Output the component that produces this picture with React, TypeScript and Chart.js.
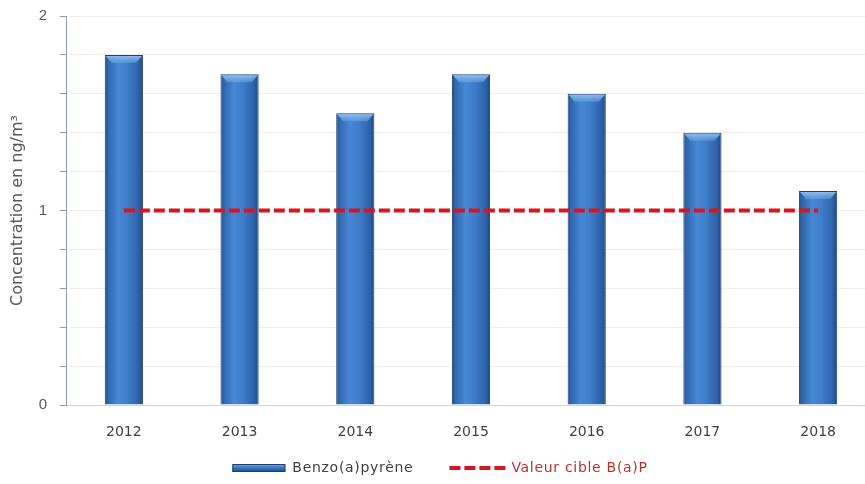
import React, { useEffect, useRef } from "react";
import { Chart, registerables } from "chart.js";

Chart.register(...registerables);

const categories = ["2012", "2013", "2014", "2015", "2016", "2017", "2018"];
const bapValues = [1.8, 1.7, 1.5, 1.7, 1.6, 1.4, 1.1];
const targetValues = [1, 1, 1, 1, 1, 1, 1];
const seriesLabels = ["Benzo(a)pyrène", "Valeur cible B(a)P"];
const yTitle = "Concentration en ng/m³";

const BAR_PCT = 0.33;

function barGradient(ctx: any) {
  const chart = ctx.chart;
  const xs = chart.scales && chart.scales.x;
  if (!xs || ctx.dataIndex === undefined) return "#3a76c0";
  const cx = xs.getPixelForValue(ctx.dataIndex);
  const w = (xs.width / categories.length) * BAR_PCT;
  if (!isFinite(cx) || !isFinite(w) || w <= 0) return "#3a76c0";
  const g = chart.ctx.createLinearGradient(cx - w / 2, 0, cx + w / 2, 0);
  g.addColorStop(0, "#1d4883");
  g.addColorStop(0.08, "#2e67ae");
  g.addColorStop(0.35, "#4888d5");
  g.addColorStop(0.6, "#3f7cc9");
  g.addColorStop(0.9, "#2b60a6");
  g.addColorStop(1, "#1b437d");
  return g;
}

const bevelPlugin = {
  id: "bevel",
  afterDatasetsDraw(chart: any) {
    const meta = chart.getDatasetMeta(0);
    const c = chart.ctx;
    c.save();
    meta.data.forEach((el: any) => {
      const w = el.width;
      if (!isFinite(el.x) || !isFinite(el.y) || !isFinite(w)) return;
      const l = el.x - w / 2 + 1;
      const r = el.x + w / 2 - 1;
      const t = el.y + 1;
      const g = c.createLinearGradient(0, t, 0, t + 7);
      g.addColorStop(0, "rgba(150,195,245,0.9)");
      g.addColorStop(1, "rgba(110,165,230,0.5)");
      c.fillStyle = g;
      c.beginPath();
      c.moveTo(l, t);
      c.lineTo(r, t);
      c.lineTo(r - 6, t + 7);
      c.lineTo(l + 6, t + 7);
      c.closePath();
      c.fill();
    });
    c.restore();
  },
};

const legendPlugin = {
  id: "customLegend",
  afterDraw(chart: any) {
    const c = chart.ctx;
    c.save();
    (c as any).letterSpacing = "0.7px";
    c.font = "14px 'DejaVu Sans'";
    c.textAlign = "left";
    c.textBaseline = "middle";
    const t1 = seriesLabels[0];
    const t2 = seriesLabels[1];
    const w1 = c.measureText(t1).width;
    const w2 = c.measureText(t2).width;
    const sw1 = 53, g1 = 7, gap = 36, sw2 = 59, g2 = 3;
    const total = sw1 + g1 + w1 + gap + sw2 + g2 + w2;
    let x = chart.width / 2 - total / 2;
    const y = 468;
    const gr = c.createLinearGradient(0, y - 4, 0, y + 4);
    gr.addColorStop(0, "#7fb0e8");
    gr.addColorStop(0.4, "#3f7ecb");
    gr.addColorStop(1, "#1d4883");
    c.fillStyle = gr;
    c.fillRect(x, y - 4, sw1, 8);
    c.strokeStyle = "#1f3f70";
    c.lineWidth = 1;
    c.strokeRect(x + 0.5, y - 3.5, sw1 - 1, 7);
    x += sw1 + g1;
    c.fillStyle = "#404040";
    c.fillText(t1, x, y);
    x += w1 + gap;
    c.strokeStyle = "#d9141c";
    c.lineWidth = 4;
    c.setLineDash([11, 4]);
    c.beginPath();
    c.moveTo(x, y);
    c.lineTo(x + sw2, y);
    c.stroke();
    c.setLineDash([]);
    x += sw2 + g2;
    c.fillStyle = "#b8302c";
    c.fillText(t2, x, y);
    (c as any).letterSpacing = "0px";
    c.restore();
  },
};

export default function App() {
  const ref = useRef<HTMLCanvasElement>(null);
  useEffect(() => {
    if (!ref.current) return;
    const chart = new Chart(ref.current, {
      type: "bar",
      data: {
        labels: categories,
        datasets: [
          {
            type: "bar",
            label: seriesLabels[0],
            data: bapValues,
            backgroundColor: barGradient as any,
            borderColor: "#1f3f70",
            borderWidth: 1,
            barPercentage: BAR_PCT,
            categoryPercentage: 1,
            order: 2,
          },
          {
            type: "line",
            label: seriesLabels[1],
            data: targetValues,
            borderColor: "#d9141c",
            borderWidth: 4,
            borderDash: [11, 4],
            pointRadius: 0,
            fill: false,
            order: 1,
          } as any,
        ],
      },
      options: {
        animation: false,
        responsive: false,
        maintainAspectRatio: false,
        layout: { padding: { left: 0, top: 16, right: 4, bottom: 0 } },
        plugins: { legend: { display: false }, tooltip: { enabled: false } },
        scales: {
          x: {
            grid: { display: false, drawTicks: false },
            border: { display: true, color: "#d4d4d4", width: 1 },
            ticks: {
              color: "#404040",
              font: { family: "'DejaVu Sans'", size: 14 },
              padding: 19,
              maxRotation: 0,
            },
            afterFit(s: any) {
              s.height = 79;
              s.paddingLeft = 0;
              s.paddingRight = 0;
            },
          },
          y: {
            min: 0,
            max: 2,
            grid: {
              color: "#efefef",
              tickColor: "#8c9cb0",
              tickLength: 6,
              lineWidth: 1,
            },
            border: { display: true, color: "#8c9cb0", width: 1 },
            ticks: {
              stepSize: 0.2,
              color: "#595959",
              font: { family: "'Liberation Sans'", size: 15 },
              padding: 13,
              crossAlign: "near",
              callback: (v: any) =>
                Math.abs(v - Math.round(v)) < 1e-6 ? String(Math.round(v)) : "",
            },
            title: {
              display: true,
              text: yTitle,
              color: "#595959",
              font: { family: "'DejaVu Sans'", size: 16 },
              padding: { top: 8, bottom: 0 },
            },
            afterFit(s: any) {
              s.width = 66;
              s.paddingTop = 0;
              s.paddingBottom = 0;
            },
          },
        },
      },
      plugins: [bevelPlugin, legendPlugin],
    });
    return () => chart.destroy();
  }, []);
  return (
    <div
      style={{
        position: "fixed",
        left: 0,
        top: 0,
        width: 865,
        height: 484,
        overflow: "hidden",
        background: "#fff",
      }}
    >
      <canvas ref={ref} width={880} height={484} style={{ display: "block" }} />
    </div>
  );
}
